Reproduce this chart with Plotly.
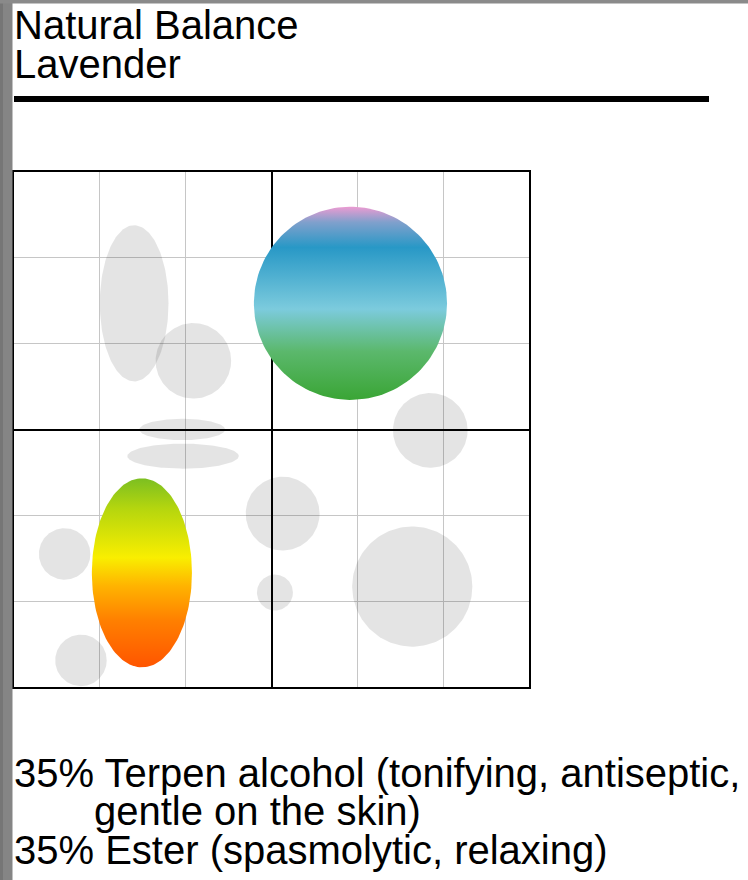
import numpy as np
import plotly.graph_objects as go

# ---- data (grid units, square 0..6 x 0..6) ----
gray_cx = [1.40, 2.09, 1.96, 1.97, 0.59, 0.78, 3.13, 3.04, 4.64, 4.85]
gray_cy = [4.47, 3.80, 3.00, 2.69, 1.55, 0.31, 2.02, 1.10, 1.17, 2.99]
gray_rx = [0.40, 0.44, 0.50, 0.65, 0.30, 0.30, 0.43, 0.21, 0.70, 0.435]
gray_ry = [0.91, 0.44, 0.125, 0.146, 0.30, 0.30, 0.43, 0.21, 0.70, 0.435]

color_names = ["Lavender", "Terpen alcohol"]
color_cx = [3.92, 1.49]
color_cy = [4.47, 1.33]
color_rx = [1.125, 0.583]
color_ry = [1.125, 1.101]
color_scales = [
    [[0.0, "#3aa535"], [0.25, "#5bb86c"], [0.47, "#7ccbdd"], [0.79, "#2898c6"],
     [0.92, "#80a0cc"], [1.0, "#eb9bd2"]],
    [[0.0, "#ff5500"], [0.25, "#ff8000"], [0.43, "#ffb300"], [0.58, "#f9ee00"],
     [0.84, "#b5d60e"], [1.0, "#7cbf21"]],
]

title_lines = ["Natural Balance", "Lavender"]
note_lines = ["35% Terpen alcohol (tonifying, antiseptic,", "gentle on the skin)",
              "35% Ester (spasmolytic, relaxing)"]

FONT = "Liberation Sans, Arial, Helvetica, sans-serif"
W, H = 748, 880
L, T, S = 14, 172, 515  # plot left, top, size in px


def px2paper_x(px):
    return (px - L) / S


def px2paper_y(py):
    return (T + S - py) / S


def ellipse(cx, cy, rx, ry, n=160):
    t = np.linspace(0, 2 * np.pi, n)
    return cx + rx * np.cos(t), cy + ry * np.sin(t)


fig = go.Figure()

for cx, cy, rx, ry in zip(gray_cx, gray_cy, gray_rx, gray_ry):
    x, y = ellipse(cx, cy, rx, ry)
    fig.add_trace(go.Scatter(x=x, y=y, mode="lines", fill="toself",
                             fillcolor="rgba(0,0,0,0.105)",
                             line=dict(width=0, color="rgba(0,0,0,0)"),
                             hoverinfo="skip", showlegend=False))

for name, cx, cy, rx, ry, cs in zip(color_names, color_cx, color_cy, color_rx, color_ry, color_scales):
    x, y = ellipse(cx, cy, rx, ry)
    fig.add_trace(go.Scatter(x=x, y=y, mode="lines", fill="toself", name=name,
                             fillgradient=dict(type="vertical", colorscale=cs),
                             line=dict(width=0, color="rgba(0,0,0,0)"),
                             hoverinfo="skip", showlegend=False))

axis = dict(range=[0, 6], tick0=0, dtick=3, showgrid=True, gridcolor="black", gridwidth=2,
            showticklabels=False, ticks="", zeroline=False, showline=True,
            linecolor="black", linewidth=2, mirror=True, fixedrange=True,
            minor=dict(tick0=0, dtick=1, showgrid=True, gridcolor="#c6c6c6", gridwidth=1))

fig.update_layout(
    width=W, height=H,
    margin=dict(l=L, r=W - L - S, t=T, b=H - T - S, pad=0),
    paper_bgcolor="white", plot_bgcolor="white",
    xaxis=axis, yaxis=axis,
    showlegend=False,
)

shapes = []
# grey frame bands of the page
shapes.append(dict(type="rect", xref="paper", yref="paper",
                   x0=px2paper_x(0), x1=px2paper_x(12.5),
                   y0=px2paper_y(H), y1=px2paper_y(0),
                   fillcolor="#858585", line=dict(width=0), layer="above"))
shapes.append(dict(type="rect", xref="paper", yref="paper",
                   x0=px2paper_x(0), x1=px2paper_x(3),
                   y0=px2paper_y(H), y1=px2paper_y(0),
                   fillcolor="#767676", line=dict(width=0), layer="above"))
shapes.append(dict(type="rect", xref="paper", yref="paper",
                   x0=px2paper_x(0), x1=px2paper_x(W), y0=px2paper_y(3.5), y1=px2paper_y(0),
                   fillcolor="#8a8a8a", line=dict(width=0), layer="above"))
# title rule
shapes.append(dict(type="line", xref="paper", yref="paper",
                   x0=px2paper_x(14), x1=px2paper_x(709), y0=px2paper_y(99), y1=px2paper_y(99),
                   line=dict(color="black", width=6), layer="above"))
fig.update_layout(shapes=shapes)

F = 40
ann = []
title_base = [39, 78]
for txt, b in zip(title_lines, title_base):
    ann.append(dict(text=txt, xref="paper", yref="paper", x=px2paper_x(12), y=px2paper_y(b - 0.35 * F),
                    xanchor="left", yanchor="middle", showarrow=False,
                    font=dict(family=FONT, size=F, color="black")))
note_base = [787, 825, 864]
note_x = [12, 92, 12]
for txt, b, xx in zip(note_lines, note_base, note_x):
    ann.append(dict(text=txt, xref="paper", yref="paper", x=px2paper_x(xx), y=px2paper_y(b - 0.35 * F),
                    xanchor="left", yanchor="middle", showarrow=False,
                    font=dict(family=FONT, size=F, color="black")))
fig.update_layout(annotations=ann)

fig.write_html("out.html", config={"displayModeBar": False},
               post_script="document.body.style.margin='0px';document.body.style.padding='0px';"
                           "document.body.style.overflow='hidden';")
